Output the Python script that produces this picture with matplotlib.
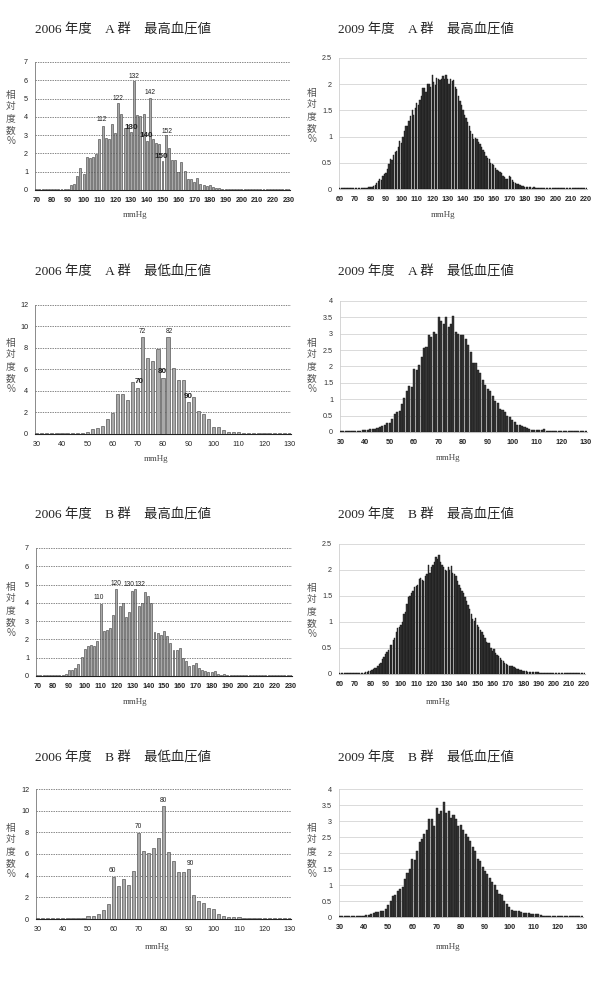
import matplotlib
matplotlib.use("Agg")
import matplotlib.pyplot as plt

plt.rcParams['font.family'] = ['Liberation Sans', 'Noto Sans CJK JP']

# ---------------- data (relative frequency, %) ----------------
# 2006: 2 mmHg classes
sbp06_x = list(range(70, 232, 2))
sbp06_a = [0.05, 0.05, 0.05, 0.05, 0.05, 0.05, 0.05, 0.05, 0.06, 0.08,
           0.08, 0.30, 0.35, 0.78, 1.18, 0.88, 1.78, 1.75, 1.78, 1.95,
           2.78, 3.48, 2.85, 2.80, 3.62, 3.10, 4.76, 4.16, 3.40, 3.55,
           3.16, 5.95, 4.12, 4.05, 4.18, 2.70, 5.05, 2.80, 2.55, 2.50,
           1.58, 3.00, 2.30, 1.65, 1.65, 0.98, 1.52, 1.02, 0.58, 0.60,
           0.45, 0.65, 0.33, 0.28, 0.20, 0.25, 0.18, 0.12, 0.10, 0.08,
           0.08, 0.06, 0.06, 0.05, 0.05, 0.05, 0.05, 0.05, 0.05, 0.05,
           0.05, 0.05, 0.05, 0.05, 0.05, 0.05, 0.05, 0.05, 0.05, 0.05, 0.05]
sbp06_b = [0.08, 0.07, 0.07, 0.07, 0.07, 0.07, 0.07, 0.08, 0.08, 0.10,
           0.35, 0.35, 0.42, 0.65, 1.05, 1.50, 1.62, 1.72, 1.65, 1.92,
           3.95, 2.45, 2.50, 2.60, 3.35, 4.75, 3.85, 4.00, 3.25, 3.50,
           4.65, 4.75, 3.85, 4.00, 4.60, 4.35, 4.00, 2.40, 2.35, 2.25,
           2.45, 2.20, 1.80, 1.40, 1.40, 1.55, 1.00, 0.80, 0.55, 0.60,
           0.70, 0.45, 0.35, 0.30, 0.20, 0.20, 0.25, 0.12, 0.08, 0.10,
           0.07, 0.07, 0.07, 0.07, 0.07, 0.07, 0.07, 0.07, 0.07, 0.07,
           0.07, 0.07, 0.07, 0.07, 0.07, 0.07, 0.07, 0.07, 0.07, 0.07, 0.07]
dbp06_x = list(range(30, 132, 2))
dbp06_a = [0.10, 0.10, 0.10, 0.10, 0.12, 0.10, 0.10, 0.10, 0.10, 0.10,
           0.15, 0.47, 0.55, 0.70, 1.40, 1.95, 3.70, 3.70, 3.15, 4.80,
           4.25, 9.05, 7.10, 6.75, 7.90, 5.20, 9.05, 6.10, 5.05, 5.00,
           3.00, 3.45, 2.10, 1.85, 1.40, 0.65, 0.65, 0.35, 0.15, 0.15,
           0.20, 0.10, 0.10, 0.10, 0.10, 0.10, 0.10, 0.10, 0.10, 0.10, 0.10]
dbp06_b = [0.10, 0.10, 0.10, 0.10, 0.10, 0.10, 0.10, 0.10, 0.10, 0.12,
           0.30, 0.30, 0.50, 0.85, 1.35, 3.90, 3.05, 3.65, 3.10, 4.40,
           7.95, 6.30, 6.05, 6.55, 7.45, 10.45, 6.15, 5.40, 4.35, 4.30,
           4.60, 2.20, 1.70, 1.50, 1.00, 0.95, 0.45, 0.25, 0.20, 0.20,
           0.20, 0.10, 0.10, 0.10, 0.10, 0.10, 0.10, 0.10, 0.10, 0.10, 0.10]

# 2009: 1 mmHg classes
sbp09_x = list(range(60, 221))
sbp09_a = [0.01, 0.01, 0.01, 0.01, 0.01, 0.01, 0.01, 0.01, 0.02, 0.01,
           0.02, 0.01, 0.02, 0.02, 0.02, 0.02, 0.02, 0.02, 0.02, 0.03,
           0.03, 0.03, 0.05, 0.08, 0.12, 0.15, 0.20, 0.18, 0.25, 0.28,
           0.30, 0.38, 0.48, 0.58, 0.55, 0.65, 0.70, 0.72, 0.80, 0.92,
           0.88, 1.00, 1.10, 1.20, 1.20, 1.30, 1.40, 1.50, 1.42, 1.55,
           1.65, 1.60, 1.70, 1.78, 1.92, 1.92, 1.85, 2.00, 2.00, 1.95,
           2.18, 2.05, 1.98, 2.12, 2.10, 2.08, 2.10, 2.15, 2.10, 2.17,
           2.10, 2.00, 2.10, 2.07, 2.08, 1.95, 1.90, 1.78, 1.68, 1.60,
           1.50, 1.42, 1.35, 1.28, 1.20, 1.10, 1.05, 0.95, 0.97, 0.95,
           0.90, 0.85, 0.80, 0.75, 0.70, 0.63, 0.60, 0.57, 0.50, 0.48,
           0.45, 0.40, 0.36, 0.35, 0.33, 0.30, 0.25, 0.22, 0.20, 0.20,
           0.25, 0.22, 0.17, 0.14, 0.12, 0.10, 0.09, 0.07, 0.06, 0.05,
           0.04, 0.04, 0.03, 0.03, 0.03, 0.02, 0.03, 0.02, 0.02, 0.02,
           0.02, 0.02, 0.01, 0.02, 0.01, 0.01, 0.01, 0.01, 0.02, 0.01,
           0.01, 0.01, 0.01, 0.01, 0.01, 0.01, 0.01, 0.01, 0.01, 0.01,
           0.01, 0.01, 0.01, 0.01, 0.01, 0.01, 0.01, 0.01, 0.01, 0.01, 0.01]
sbp09_b = [0.01, 0.01, 0.01, 0.01, 0.01, 0.02, 0.02, 0.02, 0.02, 0.02,
           0.02, 0.02, 0.02, 0.02, 0.02, 0.02, 0.02, 0.03, 0.04, 0.05,
           0.06, 0.08, 0.10, 0.12, 0.12, 0.15, 0.20, 0.22, 0.28, 0.33,
           0.38, 0.42, 0.47, 0.55, 0.55, 0.65, 0.70, 0.80, 0.88, 0.90,
           0.95, 1.00, 1.15, 1.20, 1.35, 1.48, 1.50, 1.55, 1.60, 1.68,
           1.70, 1.72, 1.82, 1.85, 1.80, 1.78, 1.88, 1.92, 2.10, 1.95,
           2.05, 2.10, 2.15, 2.25, 2.22, 2.28, 2.15, 2.10, 2.05, 2.00,
           1.98, 2.05, 2.00, 2.08, 1.95, 1.92, 1.88, 1.78, 1.72, 1.65,
           1.60, 1.55, 1.48, 1.40, 1.32, 1.25, 1.15, 1.05, 1.02, 1.08,
           0.95, 0.90, 0.85, 0.80, 0.75, 0.70, 0.62, 0.60, 0.60, 0.50,
           0.45, 0.48, 0.40, 0.37, 0.35, 0.30, 0.27, 0.25, 0.22, 0.20,
           0.18, 0.16, 0.15, 0.16, 0.13, 0.11, 0.10, 0.09, 0.08, 0.07,
           0.06, 0.05, 0.05, 0.04, 0.04, 0.04, 0.03, 0.03, 0.03, 0.03,
           0.03, 0.02, 0.02, 0.02, 0.02, 0.02, 0.02, 0.02, 0.02, 0.02,
           0.02, 0.02, 0.02, 0.02, 0.02, 0.02, 0.02, 0.02, 0.02, 0.02,
           0.02, 0.02, 0.02, 0.02, 0.02, 0.02, 0.02, 0.02, 0.02, 0.02, 0.02]
dbp09_x = list(range(30, 131))
dbp09_a = [0.02, 0.02, 0.02, 0.03, 0.02, 0.03, 0.03, 0.04, 0.04, 0.05,
           0.05, 0.06, 0.08, 0.08, 0.10, 0.12, 0.15, 0.18, 0.22, 0.27,
           0.28, 0.40, 0.55, 0.60, 0.65, 0.85, 1.05, 1.25, 1.40, 1.38,
           1.92, 1.88, 2.05, 2.30, 2.55, 2.60, 2.95, 2.90, 3.05, 3.00,
           3.50, 3.40, 3.30, 3.50, 3.20, 3.30, 3.55, 3.05, 3.00, 2.95,
           2.95, 2.85, 2.65, 2.45, 2.10, 2.12, 1.90, 1.80, 1.60, 1.45,
           1.30, 1.25, 1.10, 0.95, 0.88, 0.70, 0.68, 0.60, 0.50, 0.45,
           0.38, 0.30, 0.22, 0.20, 0.17, 0.15, 0.12, 0.08, 0.07, 0.06,
           0.05, 0.05, 0.06, 0.08, 0.04, 0.03, 0.03, 0.03, 0.03, 0.03,
           0.03, 0.03, 0.03, 0.03, 0.03, 0.03, 0.03, 0.03, 0.03, 0.03, 0.03]
dbp09_b = [0.02, 0.02, 0.02, 0.02, 0.02, 0.02, 0.03, 0.03, 0.04, 0.03,
           0.04, 0.05, 0.07, 0.10, 0.13, 0.15, 0.15, 0.20, 0.20, 0.25,
           0.38, 0.50, 0.65, 0.70, 0.82, 0.88, 0.95, 1.20, 1.38, 1.50,
           1.80, 1.78, 2.05, 2.35, 2.45, 2.60, 2.72, 3.05, 3.05, 2.85,
           3.40, 3.22, 3.30, 3.60, 3.25, 3.30, 3.10, 3.20, 3.05, 2.85,
           2.88, 2.72, 2.60, 2.50, 2.38, 2.20, 2.05, 1.80, 1.75, 1.55,
           1.45, 1.35, 1.22, 1.10, 1.00, 0.85, 0.72, 0.68, 0.50, 0.42,
           0.30, 0.22, 0.20, 0.19, 0.18, 0.16, 0.14, 0.12, 0.12, 0.10,
           0.10, 0.08, 0.09, 0.05, 0.04, 0.02, 0.02, 0.02, 0.02, 0.02,
           0.02, 0.02, 0.02, 0.02, 0.02, 0.02, 0.02, 0.02, 0.02, 0.02, 0.02]

# peak labels: (label, x, y, bold)
lab_sbp06_a = [("112", 111.6, 3.85, False), ("122", 121.9, 5.02, False),
               ("132", 131.7, 6.22, False), ("142", 142.2, 5.35, False),
               ("152", 152.6, 3.2, False), ("130", 130.3, 3.42, True),
               ("140", 139.5, 2.96, True), ("150", 149.0, 1.82, True)]
lab_dbp06_a = [("72", 71.8, 9.58, False), ("82", 82.4, 9.58, False),
               ("70", 70.4, 4.87, True), ("80", 79.9, 5.86, True),
               ("90", 90.0, 3.47, True)]
lab_sbp06_b = [("110", 109.0, 4.28, False), ("120", 119.6, 5.08, False),
               ("130", 127.6, 4.98, False), ("132", 135.0, 4.98, False)]
lab_dbp06_b = [("60", 59.7, 4.44, False), ("70", 69.8, 8.58, False),
               ("80", 80.1, 10.93, False), ("90", 90.7, 5.15, False)]

titles = ["2006 年度　A 群　最高血圧値", "2009 年度　A 群　最高血圧値",
          "2006 年度　A 群　最低血圧値", "2009 年度　A 群　最低血圧値",
          "2006 年度　B 群　最高血圧値", "2009 年度　B 群　最高血圧値",
          "2006 年度　B 群　最低血圧値", "2009 年度　B 群　最低血圧値"]

W, H = 597, 1000
fig = plt.figure(figsize=(W / 100, H / 100), dpi=100)
fig.patch.set_facecolor("white")


def fx(p):
    return p / W


def fy(p):
    return 1 - p / H


def panel(box, x, y, xlim, ymax, yticks, yticklabels, xticks, style,
          title, title_pos, ylab_pos, xlab_pos, labels=None, bold_xt=False):
    l, t, r, b = box
    ax = fig.add_axes([fx(l), fy(b), (r - l) / W, (b - t) / H])
    if style == "2006":
        ax.bar(x, y, width=1.25, color="#a9a9a9", edgecolor="#3a3a3a",
               linewidth=0.4, zorder=3)
        ax.yaxis.grid(True, linestyle=(0, (2, 1.5)), color="#555555",
                      linewidth=0.5, zorder=0)
        ax.spines["left"].set_color("#777777")
        ax.spines["bottom"].set_color("#222222")
        ax.spines["bottom"].set_linewidth(0.8)
        ycol = "#222222"
    else:
        ax.bar(x, y, width=0.85, color="#383838", edgecolor="#111111",
               linewidth=0.3, zorder=3)
        ax.yaxis.grid(True, linestyle="-", color="#d4d4d4",
                      linewidth=0.6, zorder=0)
        ax.spines["left"].set_color("#cfcfcf")
        ax.spines["bottom"].set_color("#bdbdbd")
        ax.spines["bottom"].set_linewidth(0.8)
        ycol = "#333333"
    ax.spines["left"].set_linewidth(0.6)
    for s in ("top", "right"):
        ax.spines[s].set_visible(False)
    ax.set_xlim(*xlim)
    ax.set_ylim(0, ymax)
    ax.set_yticks(yticks)
    ax.set_yticklabels(yticklabels, fontsize=5.2, color=ycol)
    ax.set_xticks(xticks)
    ax.set_xticklabels([str(v) for v in xticks], fontsize=5.2, color="#222222",
                       fontweight="bold" if bold_xt else "normal")
    ax.tick_params(length=0, pad=5)
    ax.set_axisbelow(True)
    if labels:
        for txt, lx, ly, bold in labels:
            ax.text(lx, ly, txt, ha="center", va="center",
                    fontsize=5.8 if bold else 4.8,
                    fontweight="bold" if bold else "normal",
                    color="#222222", zorder=5)
    fig.text(fx(title_pos[0]), fy(title_pos[1]), title, ha="left", va="center",
             fontsize=9.6, color="#222222",
             family=["Liberation Serif", "Noto Sans CJK JP"])
    fig.text(fx(ylab_pos[0]), fy(ylab_pos[1]), "相\n対\n度\n数\n%",
             ha="center", va="center", fontsize=7, linespacing=1.2,
             color="#555555", family=["Noto Sans CJK JP"])
    fig.text(fx(xlab_pos[0]), fy(xlab_pos[1]), "mmHg", ha="center",
             va="center", fontsize=6.5, color="#444444",
             family=["Liberation Serif"])
    return ax


sbp06_ticks = list(range(70, 240, 10))
dbp_ticks = list(range(30, 140, 10))
sbp09_ticks = list(range(60, 230, 10))

panel((35, 62, 290, 190), sbp06_x, sbp06_a, (69.2, 230.8), 7,
      [0, 1, 2, 3, 4, 5, 6, 7], ["0", "1", "2", "3", "4", "5", "6", "7"],
      sbp06_ticks, "2006", titles[0], (35, 30), (11, 118), (135, 215),
      lab_sbp06_a, bold_xt=True)
panel((339, 58, 587, 189), sbp09_x, sbp09_a, (59.5, 220.5), 2.5,
      [0, 0.5, 1, 1.5, 2, 2.5], ["0", "0.5", "1", "1.5", "2", "2.5"],
      sbp09_ticks, "2009", titles[1], (338, 30), (312, 116), (443, 215),
      bold_xt=True)

panel((35, 305, 291, 434), dbp06_x, dbp06_a, (29.3, 130.7), 12,
      [0, 2, 4, 6, 8, 10, 12], ["0", "2", "4", "6", "8", "10", "12"],
      dbp_ticks, "2006", titles[2], (35, 272), (11, 366), (156, 459),
      lab_dbp06_a)
panel((340, 301, 587, 432), dbp09_x, dbp09_a, (29.7, 130.5), 4,
      [0, 0.5, 1, 1.5, 2, 2.5, 3, 3.5, 4],
      ["0", "0.5", "1", "1.5", "2", "2.5", "3", "3.5", "4"],
      dbp_ticks, "2009", titles[3], (338, 272), (312, 366), (448, 458),
      bold_xt=True)

panel((36, 548, 292, 676), sbp06_x, sbp06_b, (69.2, 230.8), 7,
      [0, 1, 2, 3, 4, 5, 6, 7], ["0", "1", "2", "3", "4", "5", "6", "7"],
      sbp06_ticks, "2006", titles[4], (35, 515), (11, 610), (135, 702),
      lab_sbp06_b, bold_xt=True)
panel((339, 544, 585, 674), sbp09_x, sbp09_b, (59.5, 220.5), 2.5,
      [0, 0.5, 1, 1.5, 2, 2.5], ["0", "0.5", "1", "1.5", "2", "2.5"],
      sbp09_ticks, "2009", titles[5], (338, 515), (312, 611), (438, 702),
      bold_xt=True)

panel((36, 789, 291, 919), dbp06_x, dbp06_b, (29.3, 130.7), 12,
      [0, 2, 4, 6, 8, 10, 12], ["0", "2", "4", "6", "8", "10", "12"],
      dbp_ticks, "2006", titles[6], (35, 758), (11, 851), (157, 947),
      lab_dbp06_b)
panel((339, 789, 583, 917), dbp09_x, dbp09_b, (29.7, 130.5), 4,
      [0, 0.5, 1, 1.5, 2, 2.5, 3, 3.5, 4],
      ["0", "0.5", "1", "1.5", "2", "2.5", "3", "3.5", "4"],
      dbp_ticks, "2009", titles[7], (338, 758), (312, 851), (448, 947),
      bold_xt=True)

fig.savefig("out.png", dpi=100)
